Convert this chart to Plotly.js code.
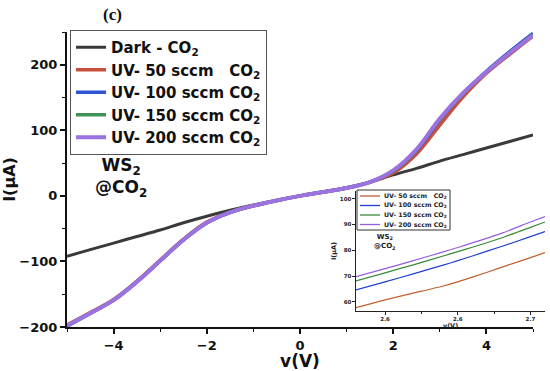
<!DOCTYPE html>
<html>
<head>
<meta charset="utf-8">
<script src="https://cdn.plot.ly/plotly-3.0.1.min.js"></script>
<style>html,body{margin:0;padding:0;background:#fff;}#chart{width:550px;height:371px;}</style>
</head>
<body>
<div id="chart"></div>
<script>
// ---- main panel data (bias voltage in V, current in µA) ----
const voltage = [-5,-4.5,-4,-3.5,-3,-2.5,-2,-1.5,-1,-0.5,0,0.5,1,1.5,2,2.5,3,3.5,4,4.5,5];
const darkCO2  = [-92,-82,-72,-62,-52,-41,-31,-22,-14,-7,0,6,13,21,32,42,53,63,73,83,93];
const uv50     = [-197,-178,-158,-130,-98,-66,-40,-25,-15,-7,0,6,12,21,35,64,108,151,187,216,244];
const uv100    = [-199,-179,-159,-131,-99,-67,-41,-25,-15,-7,0,6,12,21,38,69,116,156,190,220,248];
const uv150    = [-198,-179,-159,-131,-99,-67,-41,-25,-15,-7,0,6,12,21,38,70,117,156,189,218,246];
const uv200    = [-198,-179,-159,-131,-99,-67,-41,-25,-15,-7,0,6,12,21,39,71,118,157,189,218,245];

// ---- inset (zoom 2.58 – 2.71 V) ----
const insetV     = [2.58,2.6,2.62,2.64,2.65,2.66,2.68,2.7,2.71];
const insetUv50  = [57.8,60.8,63.5,66.2,67.8,69.6,73.4,77.2,79.1];
const insetUv100 = [64.7,67.8,71.0,74.3,76.0,77.8,81.5,85.3,87.3];
const insetUv150 = [68.2,71.3,74.5,77.8,79.5,81.2,84.8,88.9,91.0];
const insetUv200 = [69.8,72.9,76.1,79.4,81.1,82.9,86.6,91.0,93.1];

// ---- labels ----
const seriesNames = ['Dark - CO<sub>2</sub>', 'UV- 50 sccm\u00a0\u00a0 CO<sub>2</sub>', 'UV- 100 sccm CO<sub>2</sub>', 'UV- 150 sccm CO<sub>2</sub>', 'UV- 200 sccm CO<sub>2</sub>'];
const mainXTicks = [-4,-2,0,2,4];
const mainYTicks = [-200,-100,0,100,200];
const insetXTicks = [2.6,2.65,2.7];
const insetXTickText = ['2.6','2.6','2.7'];
const insetYTicks = [60,70,80,90,100];

// ---- styles ----
const mainColors  = ['#3a3a3a','#c8503c','#2f55d4','#3f9455','#9b72e0'];
const insetColors = ['#c0602f','#1f3fd0','#3a8a3a','#9060e0'];
const FONT = 'DejaVu Sans, Arial, sans-serif';

// pixel -> paper helpers (layout geometry)
const W = 550, H = 371, L = 67, R = 5, T = 32, B = 44;
const pw = W - L - R, ph = H - T - B;
const px = x => (x - L) / pw;
const py = y => (H - B - y) / ph;

const mainY = [darkCO2, uv50, uv100, uv150, uv200];
const widths = [3, 3.5, 3.5, 3.5, 4];
const traces = mainY.map((ys, i) => ({
  x: voltage, y: ys, type: 'scatter', mode: 'lines', name: seriesNames[i],
  line: {color: mainColors[i], width: widths[i], shape: 'spline', smoothing: 1},
  xaxis: 'x', yaxis: 'y'
}));

const insetY = [insetUv50, insetUv100, insetUv150, insetUv200];
insetY.forEach((ys, i) => traces.push({
  x: insetV, y: ys, type: 'scatter', mode: 'lines', showlegend: false,
  line: {color: insetColors[i], width: 1.2, shape: 'spline', smoothing: 0.6},
  xaxis: 'x2', yaxis: 'y2', hoverinfo: 'skip'
}));

// inset legend drawn with shapes + annotations
const insetLegendY = [196, 205.5, 215, 224.5];
const shapes = [{
  type: 'rect', xref: 'paper', yref: 'paper',
  x0: px(357), x1: px(450), y0: py(230), y1: py(190),
  line: {color: '#333', width: 1}, fillcolor: 'rgba(255,255,255,0)'
}];
const annotations = [
  {text: '<b>(c)</b>', xref: 'paper', yref: 'paper', x: px(112), y: py(14), xanchor: 'center', yanchor: 'middle',
   showarrow: false, font: {family: 'Liberation Serif, Times New Roman, serif', size: 17, color: '#111'}},
  {text: 'WS<sub>2</sub><br>@CO<sub>2</sub>', xref: 'paper', yref: 'paper', x: px(121), y: py(177),
   xanchor: 'center', yanchor: 'middle',
   showarrow: false, align: 'center', font: {family: FONT, size: 17, weight: 'bold', color: '#111'}},
  {text: 'WS<sub>2</sub><br>@CO<sub>2</sub>', xref: 'paper', yref: 'paper', x: px(385), y: py(242),
   xanchor: 'center', yanchor: 'middle',
   showarrow: false, align: 'center', font: {family: FONT, size: 7, weight: 'bold', color: '#222'}}
];
insetLegendY.forEach((yy, i) => {
  shapes.push({type: 'line', xref: 'paper', yref: 'paper', x0: px(360), x1: px(380), y0: py(yy), y1: py(yy),
    line: {color: insetColors[i], width: 1.3}});
  annotations.push({text: seriesNames[i + 1], xref: 'paper', yref: 'paper', x: px(382), y: py(yy),
    xanchor: 'left', yanchor: 'middle', showarrow: false,
    font: {family: FONT, size: 6.3, weight: 'bold', color: '#222'}});
});

const axisCommon = {
  showgrid: false, zeroline: false, showline: true, linecolor: '#111', linewidth: 2,
  ticks: 'outside', ticklen: 5, tickwidth: 1.5, tickcolor: '#111'
};

const layout = {
  width: W, height: H,
  margin: {l: L, r: R, t: T, b: B, pad: 0},
  paper_bgcolor: '#fff', plot_bgcolor: 'rgba(0,0,0,0)',
  font: {family: FONT, color: '#111'},
  showlegend: true,
  legend: {
    x: px(70), y: py(30), xanchor: 'left', yanchor: 'top',
    bgcolor: '#fff', bordercolor: '#555', borderwidth: 1,
    font: {family: FONT, size: 15, weight: 'bold', color: '#111'},
    tracegroupgap: 0, itemwidth: 30
  },
  xaxis: Object.assign({}, axisCommon, {
    domain: [0, px(533)], range: [-5, 5], tickmode: 'array', tickvals: mainXTicks,
    tickfont: {family: FONT, size: 13, weight: 'bold'},
    minor: {dtick: 1, tick0: 0, ticks: 'outside', ticklen: 3, tickwidth: 1.2, tickcolor: '#111'},
    title: {text: 'v(V)', font: {family: FONT, size: 17, weight: 'bold'}, standoff: 12},
    anchor: 'y'
  }),
  yaxis: Object.assign({}, axisCommon, {
    domain: [0, 1], range: [-200, 250], tickmode: 'array', tickvals: mainYTicks,
    tickfont: {family: FONT, size: 13, weight: 'bold'},
    minor: {dtick: 50, tick0: 0, ticks: 'outside', ticklen: 3, tickwidth: 1.2, tickcolor: '#111'},
    title: {text: 'I(\u03bcA)', font: {family: FONT, size: 16, weight: 'bold'}, standoff: 10},
    anchor: 'x'
  }),
  xaxis2: {
    domain: [px(356), 1], range: [2.58, 2.71], anchor: 'y2',
    showgrid: false, zeroline: false, showline: true, linecolor: '#222', linewidth: 1.2,
    ticks: 'outside', ticklen: 2.5, tickwidth: 1, tickcolor: '#222',
    tickmode: 'array', tickvals: insetXTicks, ticktext: insetXTickText,
    minor: {dtick: 0.025, tick0: 2.6, ticks: 'outside', ticklen: 2, tickwidth: 0.8, tickcolor: '#222'},
    tickfont: {family: FONT, size: 5.5, weight: 'bold', color: '#222'},
    title: {text: 'v(V)', font: {family: FONT, size: 6.5, weight: 'bold', color: '#222'}, standoff: 1}
  },
  yaxis2: {
    domain: [py(311), py(191)], range: [56.5, 103], anchor: 'x2',
    showgrid: false, zeroline: false, showline: true, linecolor: '#222', linewidth: 1.2,
    ticks: 'outside', ticklen: 2.5, tickwidth: 1, tickcolor: '#222',
    tickmode: 'array', tickvals: insetYTicks,
    tickfont: {family: FONT, size: 5.5, weight: 'bold', color: '#222'},
    title: {text: 'I(\u03bcA)', font: {family: FONT, size: 6.5, weight: 'bold', color: '#222'}, standoff: 2}
  },
  shapes: shapes,
  annotations: annotations
};

Plotly.newPlot('chart', traces, layout, {displayModeBar: false, responsive: false});
</script>
</body>
</html>
